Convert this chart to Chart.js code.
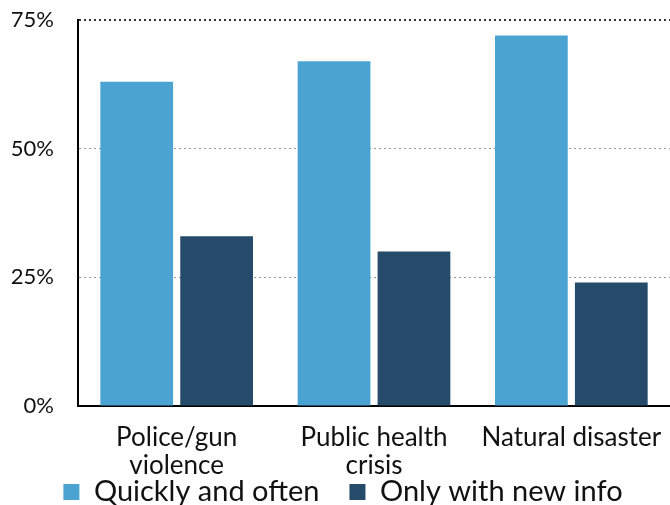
<!DOCTYPE html>
<html>
<head>
<meta charset="utf-8">
<script src="https://cdn.jsdelivr.net/npm/chart.js@4"></script>
<style>
body{margin:0;background:#fff;}
</style>
</head>
<body>
<canvas id="mainCanvas" width="670" height="505"></canvas>
<script>
var categories = [['Police/gun', 'violence'], ['Public health', 'crisis'], 'Natural disaster'];
var quickly = [63, 67, 72];
var newInfo = [33, 30, 24];
var seriesNames = ['Quickly and often', 'Only with new info'];
var yTicks = [0, 25, 50, 75];

var fontName = 'Lato, "Open Sans", sans-serif';

// legend sits closer to the axis labels than chart.js would put it
var legendLift = 34.5;
var legendShift = 8;

var ctx = document.getElementById('mainCanvas').getContext('2d');
var sChart = new Chart(ctx, {
    type: 'bar',
    data: {
        labels: categories,
        datasets: [{
            label: seriesNames[0],
            data: quickly,
            backgroundColor: '#4aa3d1',
            categoryPercentage: 0.81,
            barPercentage: 0.91
        }, {
            label: seriesNames[1],
            data: newInfo,
            backgroundColor: '#254a6a',
            categoryPercentage: 0.81,
            barPercentage: 0.91
        }]
    },
    options: {
        responsive: false,
        animation: false,
        layout: { padding: { top: 0, right: 0, left: 0, bottom: -46 } },
        plugins: {
            legend: {
                position: 'bottom',
                align: 'center',
                labels: {
                    boxWidth: 16,
                    boxHeight: 16,
                    padding: 30,
                    color: '#111',
                    font: { family: fontName, size: 29 },
                    generateLabels: function(chart) {
                        var items = Chart.defaults.plugins.legend.labels.generateLabels(chart);
                        items.forEach(function(it){ it.lineWidth = 0; });
                        return items;
                    }
                }
            },
            tooltip: { enabled: false }
        },
        scales: {
            x: {
                grid: { display: false, drawTicks: false },
                border: { color: '#000', width: 2 },
                afterFit: function(axis) {
                    axis.height = 76;
                    axis.paddingLeft = 0;
                    axis.paddingRight = 0;
                },
                ticks: {
                    color: '#111',
                    padding: 18,
                    maxRotation: 0,
                    font: { family: fontName, size: 26, lineHeight: 1.077 }
                }
            },
            y: {
                min: 0,
                max: 75,
                afterBuildTicks: function(axis) {
                    axis.ticks = yTicks.map(function(v){ return { value: v }; });
                },
                afterFit: function(axis) {
                    axis.width = 78;
                    axis.paddingTop = 20;
                    axis.paddingBottom = 0;
                },
                border: { color: '#000', width: 2, dash: [2, 3] },
                grid: {
                    drawTicks: false,
                    color: function(c) {
                        return c.tick && c.tick.value === 75 ? '#333' : '#999';
                    },
                    lineWidth: function(c) {
                        return c.tick && c.tick.value === 75 ? 2 : 1;
                    }
                },
                ticks: {
                    color: '#111',
                    padding: 24,
                    font: { family: fontName, size: 22 },
                    callback: function(v) { return v + '%'; }
                }
            }
        }
    },
    plugins: [{
        id: 'moveLegend',
        afterLayout: function(chart) {
            chart.legend.top -= legendLift;
            chart.legend.bottom -= legendLift;
            chart.legend.left += legendShift;
            chart.legend.right += legendShift;
        }
    }]
});
</script>
</body>
</html>
